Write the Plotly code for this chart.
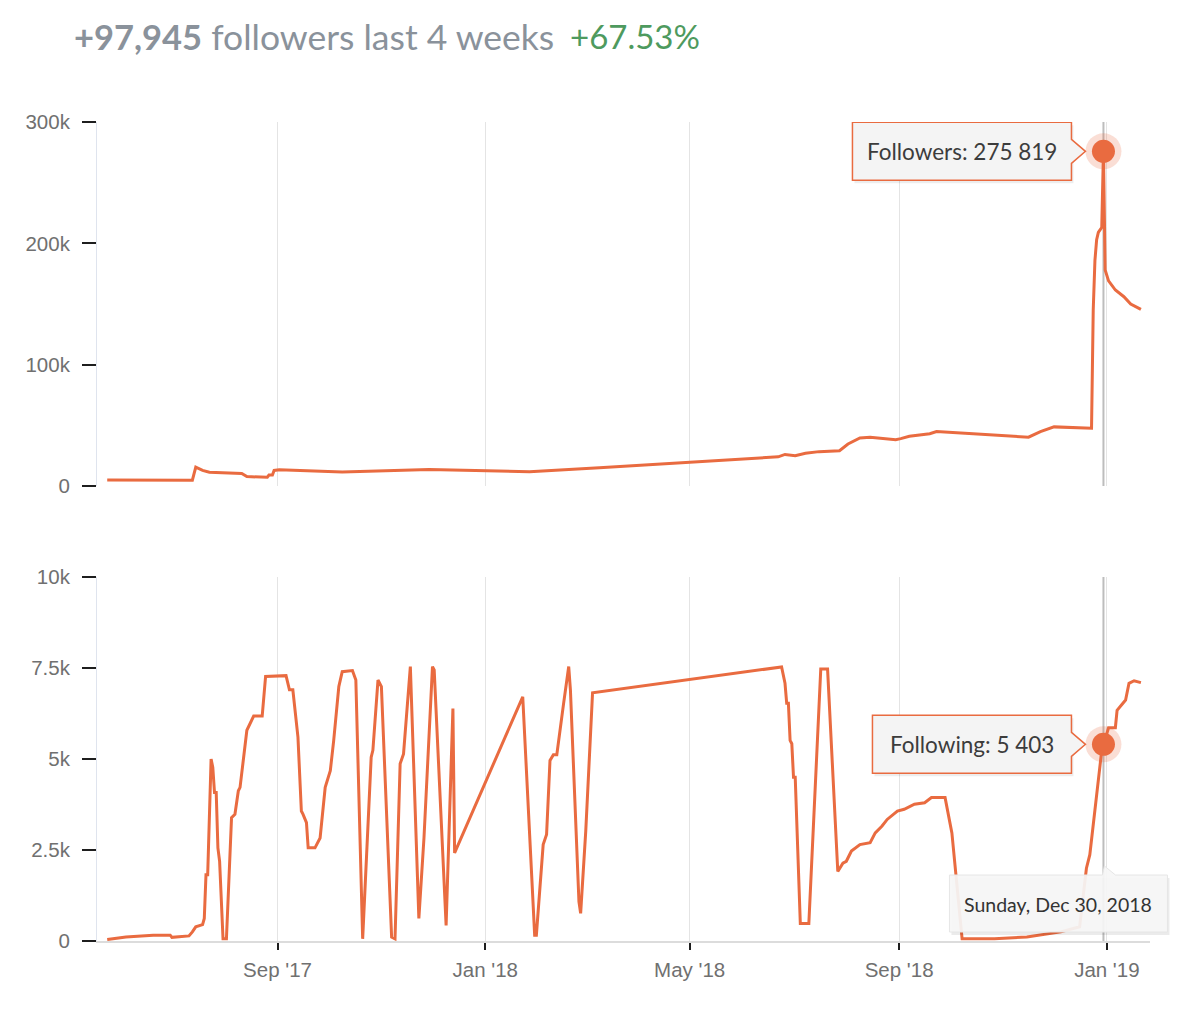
from datetime import datetime
import plotly.graph_objects as go

# ---------------- data ----------------
followers_dates = [
    "2017-05-24", "2017-07-13", "2017-07-15", "2017-07-19", "2017-07-23", "2017-08-11",
    "2017-08-14", "2017-08-26", "2017-08-27", "2017-08-29", "2017-08-30", "2017-09-02",
    "2017-10-09", "2017-11-29", "2018-01-27", "2018-02-09", "2018-03-09", "2018-06-22",
    "2018-06-26", "2018-07-02", "2018-07-08", "2018-07-16", "2018-07-28", "2018-08-02",
    "2018-08-09", "2018-08-15", "2018-08-30", "2018-09-02", "2018-09-07", "2018-09-19",
    "2018-09-23", "2018-11-16", "2018-11-23", "2018-12-01", "2018-12-23", "2018-12-24",
    "2018-12-25", "2018-12-26", "2018-12-27", "2018-12-28", "2018-12-29", "2018-12-30",
    "2018-12-31", "2019-01-02", "2019-01-04", "2019-01-06", "2019-01-11", "2019-01-15",
    "2019-01-21",
]
followers_values = [
    5000, 4800, 15500, 12800, 11300, 10300,
    7700, 7200, 9000, 9100, 12800, 13400,
    11500, 13600, 11800, 12700, 15000, 24000,
    26000, 25000, 27000, 28300, 29000, 34600,
    39600, 40200, 38200, 39000, 41000, 43000,
    44800, 40200, 44800, 48700, 47600, 145000,
    186000, 203000, 209000, 211000, 213000, 275819,
    178000, 169000, 165000, 161500, 156000, 150000,
    145500,
]

following_dates = [
    "2017-05-24", "2017-06-04", "2017-06-20", "2017-06-30", "2017-07-01", "2017-07-11",
    "2017-07-13", "2017-07-15", "2017-07-19", "2017-07-20", "2017-07-21", "2017-07-22",
    "2017-07-24", "2017-07-25", "2017-07-26", "2017-07-27", "2017-07-28", "2017-07-29",
    "2017-07-31", "2017-08-02", "2017-08-05", "2017-08-07", "2017-08-09", "2017-08-10",
    "2017-08-14", "2017-08-17", "2017-08-18", "2017-08-23", "2017-08-25", "2017-09-06",
    "2017-09-08", "2017-09-10", "2017-09-13", "2017-09-15", "2017-09-16", "2017-09-18",
    "2017-09-19", "2017-09-23", "2017-09-26", "2017-09-29", "2017-10-02", "2017-10-04",
    "2017-10-07", "2017-10-09", "2017-10-15", "2017-10-17", "2017-10-21", "2017-10-26",
    "2017-10-27", "2017-10-30", "2017-11-01", "2017-11-07", "2017-11-09", "2017-11-12",
    "2017-11-14", "2017-11-18", "2017-11-23", "2017-11-26", "2017-12-01", "2017-12-02",
    "2017-12-09", "2017-12-13", "2017-12-14", "2018-01-23", "2018-01-30", "2018-01-31",
    "2018-02-04", "2018-02-06", "2018-02-08", "2018-02-10", "2018-02-12", "2018-02-16",
    "2018-02-19", "2018-02-20", "2018-02-25", "2018-02-26", "2018-03-01", "2018-03-05",
    "2018-06-24", "2018-06-26", "2018-06-27", "2018-06-28", "2018-06-29", "2018-06-30",
    "2018-07-01", "2018-07-02", "2018-07-05", "2018-07-10", "2018-07-17", "2018-07-21",
    "2018-07-27", "2018-07-30", "2018-08-01", "2018-08-04", "2018-08-09", "2018-08-15",
    "2018-08-18", "2018-08-22", "2018-08-25", "2018-08-31", "2018-09-04", "2018-09-10",
    "2018-09-16", "2018-09-20", "2018-09-28", "2018-10-02", "2018-10-08", "2018-10-27",
    "2018-11-15", "2018-12-05", "2018-12-16", "2018-12-20", "2018-12-22", "2018-12-29",
    "2018-12-30", "2019-01-02", "2019-01-06", "2019-01-07", "2019-01-12", "2019-01-14",
    "2019-01-17", "2019-01-21",
]
following_values = [
    40, 110, 160, 160, 100, 140,
    250, 390, 450, 620, 1820, 1820,
    5000, 4770, 4080, 4080, 2560, 2190,
    60, 60, 3390, 3480, 4130, 4220,
    5790, 6070, 6180, 6180, 7270, 7290,
    6900, 6900, 5600, 3570, 3480, 3250,
    2560, 2560, 2830, 4220, 4680, 5510,
    6990, 7400, 7430, 7170, 60, 5050,
    5240, 7170, 6990, 110, 60, 4870,
    5140, 7540, 620, 2830, 7540, 7450,
    430, 6390, 2420, 6710, 160, 160,
    2650, 2930, 4960, 5120, 5120, 6530,
    7540, 6900, 1080, 760, 3020, 6820,
    7530, 7080, 6530, 6530, 5510, 5420,
    4500, 4500, 480, 480, 7470, 7470,
    1910, 2140, 2190, 2470, 2650, 2700,
    2970, 3160, 3340, 3570, 3620, 3760,
    3800, 3940, 3940, 2970, 60, 60,
    110, 250, 390, 2000, 2370, 5240,
    5403, 5860, 5860, 6340, 6620, 7080,
    7150, 7100,
]

x_tick_vals = ["2017-09-01", "2018-01-01", "2018-05-01", "2018-09-01", "2019-01-01"]
x_tick_text = ["Sep '17", "Jan '18", "May '18", "Sep '18", "Jan '19"]
followers_ticks = [0, 100000, 200000, 300000]
followers_tick_text = ["0", "100k", "200k", "300k"]
following_ticks = [0, 2500, 5000, 7500, 10000]
following_tick_text = ["0", "2.5k", "5k", "7.5k", "10k"]

hover_date = "2018-12-30"
hover_label = "Sunday, Dec 30, 2018"
headline_gain = "+97,945"
headline_text = "followers last 4 weeks"
headline_pct = "+67.53%"

# ---------------- style ----------------
ORANGE = "#e96b40"
GRID = "#e4e4e4"
TICKFONT = dict(family="Liberation Sans, Arial", size=20.5, color="#707070")
TEXTFONT = "Lato, Open Sans, sans-serif"
X_RANGE = ["2017-05-18 00:00", "2019-01-26 08:00"]

hv_follow = followers_values[followers_dates.index(hover_date)]
hv_following = following_values[following_dates.index(hover_date)]

fig = go.Figure()
fig.add_trace(go.Scatter(x=followers_dates, y=followers_values, mode="lines",
                         line=dict(color=ORANGE, width=3), xaxis="x", yaxis="y",
                         hoverinfo="skip", showlegend=False))
fig.add_trace(go.Scatter(x=following_dates, y=following_values, mode="lines",
                         line=dict(color=ORANGE, width=3), xaxis="x2", yaxis="y2",
                         hoverinfo="skip", showlegend=False))

for xa, ya, val in (("x", "y", hv_follow), ("x2", "y2", hv_following)):
    fig.add_trace(go.Scatter(x=[hover_date], y=[val], mode="markers", xaxis=xa, yaxis=ya,
                             marker=dict(size=36, color="rgba(233,107,64,0.22)"),
                             hoverinfo="skip", showlegend=False))
    fig.add_trace(go.Scatter(x=[hover_date], y=[val], mode="markers", xaxis=xa, yaxis=ya,
                             marker=dict(size=23, color=ORANGE),
                             hoverinfo="skip", showlegend=False))

shapes = []
# crosshair lines
for yref in ("y domain", "y2 domain"):
    shapes.append(dict(type="line", xref="x", yref=yref, x0=hover_date, x1=hover_date,
                       y0=0, y1=1, line=dict(color="#bdbdbd", width=2), layer="below"))


def callout(xref, yref, yval, left, right, half_h):
    notch = (f"M {left},{-half_h} L {right},{-half_h} L {right},-12 L {right + 14},0 "
             f"L {right},12 L {right},{half_h} L {left},{half_h} Z")
    shadow = (f"M {left + 2},{-half_h - 3} L {right + 2},{-half_h - 3} L {right + 2},{half_h - 3} "
              f"L {left + 2},{half_h - 3} Z")
    return [
        dict(type="path", xref=xref, yref=yref, xsizemode="pixel", ysizemode="pixel",
             xanchor=hover_date, yanchor=yval, path=shadow,
             fillcolor="rgba(0,0,0,0.07)", line=dict(width=0), layer="above"),
        dict(type="path", xref=xref, yref=yref, xsizemode="pixel", ysizemode="pixel",
             xanchor=hover_date, yanchor=yval, path=notch,
             fillcolor="#f4f4f4", line=dict(color=ORANGE, width=1.5), layer="above"),
    ]


shapes += callout("x", "y", hv_follow, -251, -32, 29)
shapes += callout("x2", "y2", hv_following, -231, -32, 29)

# date tooltip under the crosshair (paper refs so it is not clipped by the plot area)
fmt = "%Y-%m-%d %H:%M"
r0 = datetime.strptime(X_RANGE[0], fmt)
r1 = datetime.strptime(X_RANGE[1], fmt)
hd = datetime.strptime(hover_date, "%Y-%m-%d")
hover_paper_x = (hd - r0).total_seconds() / (r1 - r0).total_seconds()
date_path = "M -154,9 L -154,66 L -1,66 L 1,75 L 12,66 L 64,66 L 64,9 Z"
date_shadow = "M -152,6 L -152,63 L 66,63 L 66,6 Z"
shapes.append(dict(type="path", xref="paper", yref="paper", xsizemode="pixel", ysizemode="pixel",
                   xanchor=hover_paper_x, yanchor=0, path=date_shadow,
                   fillcolor="rgba(0,0,0,0.08)", line=dict(width=0), layer="above"))
shapes.append(dict(type="path", xref="paper", yref="paper", xsizemode="pixel", ysizemode="pixel",
                   xanchor=hover_paper_x, yanchor=0, path=date_path,
                   fillcolor="rgba(246,246,246,0.93)", line=dict(color="#e6e6e6", width=1),
                   layer="above"))

annotations = [
    dict(text=f"<span style='font-size:34.5px'><b>{headline_gain}</b></span> {headline_text}",
         xref="paper", yref="paper",
         x=0, xshift=-25, y=1.1050, xanchor="left", yanchor="middle", showarrow=False,
         font=dict(family=TEXTFONT, size=35.5, color="#8a929b")),
    dict(text=headline_pct, xref="paper", yref="paper", x=0, xshift=471, y=1.1050,
         xanchor="left", yanchor="middle", showarrow=False,
         font=dict(family=TEXTFONT, size=33, color="#4e9a5e")),
    dict(text=f"Followers: {hv_follow:,}".replace(",", " "), xref="x", yref="y",
         x=hover_date, y=hv_follow, xshift=-141, yshift=0, showarrow=False,
         xanchor="center", yanchor="middle",
         font=dict(family=TEXTFONT, size=22.5, color="#3c3c3c")),
    dict(text=f"Following: {hv_following:,}".replace(",", " "), xref="x2", yref="y2",
         x=hover_date, y=hv_following, xshift=-131, yshift=0, showarrow=False,
         xanchor="center", yanchor="middle",
         font=dict(family=TEXTFONT, size=22.5, color="#3c3c3c")),
    dict(text=hover_label, xref="paper", yref="paper", x=hover_paper_x, y=0, xshift=-45,
         yshift=37, showarrow=False, xanchor="center", yanchor="middle",
         font=dict(family=TEXTFONT, size=19.5, color="#333333")),
]

xaxis_common = dict(range=X_RANGE, type="date", tickvals=x_tick_vals, ticktext=x_tick_text,
                    showgrid=True, gridcolor=GRID, gridwidth=1, zeroline=False)
yaxis_common = dict(ticks="outside", ticklen=14, tickwidth=2, tickcolor="#1e1e1e",
                    tickfont=TICKFONT, showgrid=False, zeroline=False, showline=True,
                    linecolor="#dfe4ee", linewidth=1, ticklabelstandoff=8,
                    fixedrange=True)

fig.update_layout(
    width=1200, height=1017,
    margin=dict(l=97, r=50, t=122, b=76),
    paper_bgcolor="white", plot_bgcolor="white",
    hovermode=False,
    xaxis=dict(**xaxis_common, anchor="y", domain=[0, 1], showticklabels=False, ticks=""),
    yaxis=dict(**yaxis_common, anchor="x", domain=[0.5556, 1], range=[0, 300000],
               tickvals=followers_ticks, ticktext=followers_tick_text),
    xaxis2=dict(**xaxis_common, anchor="y2", domain=[0, 1], showticklabels=True,
                ticks="outside", ticklen=7, tickwidth=2, tickcolor="#1e1e1e",
                tickfont=TICKFONT, showline=True, linecolor="#dcdcdc", linewidth=2,
                ticklabelstandoff=2),
    yaxis2=dict(**yaxis_common, anchor="x2", domain=[0, 0.4444], range=[0, 10000],
                tickvals=following_ticks, ticktext=following_tick_text),
    shapes=shapes,
    annotations=annotations,
)

fig.write_html("out.html")
